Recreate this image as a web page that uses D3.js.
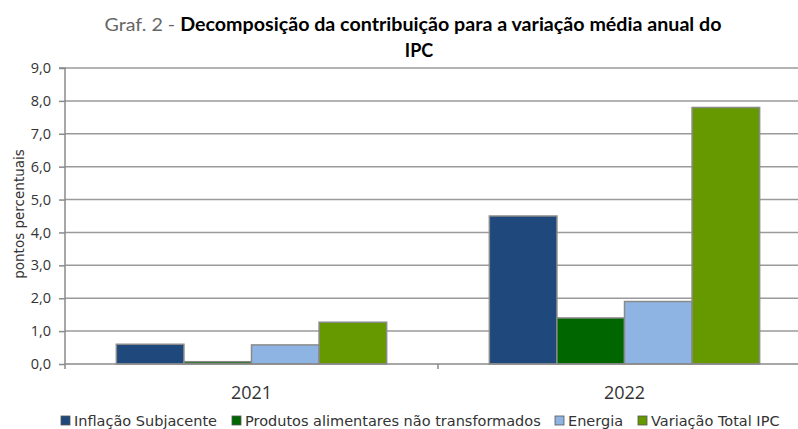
<!DOCTYPE html>
<html>
<head>
<meta charset="utf-8">
<script src="https://cdn.jsdelivr.net/npm/d3@7"></script>
<style>
  body { margin: 0; background: #fff; }
  svg { display: block; }
</style>
</head>
<body>
<div id="content"></div>
<script>
const years = ["2021", "2022"];
const seriesNames = ["Inflação Subjacente", "Produtos alimentares não transformados", "Energia", "Variação Total IPC"];
const inflacaoSubjacente = [0.6, 4.5];
const produtosAlimentares = [0.07, 1.4];
const energia = [0.58, 1.9];
const variacaoTotal = [1.27, 7.8];
const yTicks = [0, 1, 2, 3, 4, 5, 6, 7, 8, 9];
const colors = ["#1f487c", "#006600", "#8db4e2", "#669900"];

const seriesValues = [inflacaoSubjacente, produtosAlimentares, energia, variacaoTotal];

const svg = d3.select("#content")
  .append("svg")
  .attr("width", 798)
  .attr("height", 429);

const margin = { top: 68, left: 65, bottom: 65 };
const plotBottom = 364;

// each year gets half of 746px, the right one is cut off by the picture edge
const x = d3.scaleBand().domain(years).range([margin.left, 811]).paddingInner(0).paddingOuter(0);
const xInner = d3.scaleBand().domain(d3.range(seriesNames.length)).range([0, x.bandwidth()]).paddingInner(0).paddingOuter(0.76);
const y = d3.scaleLinear().domain([0, 9]).range([plotBottom, margin.top]);

// gridlines
svg.append("g")
  .selectAll("line")
  .data(yTicks.slice(1))
  .enter()
  .append("line")
  .attr("x1", margin.left)
  .attr("x2", 798)
  .attr("y1", d => y(d))
  .attr("y2", d => y(d))
  .attr("stroke", "#9a9a9a")
  .attr("stroke-width", 1.5);

// bars
const groups = svg.append("g")
  .selectAll("g")
  .data(years)
  .enter()
  .append("g")
  .attr("transform", d => `translate(${x(d)},0)`);

groups.selectAll("rect")
  .data((d, i) => seriesValues.map((s, k) => ({ k: k, v: s[i] })))
  .enter()
  .append("rect")
  .attr("x", d => xInner(d.k))
  .attr("width", xInner.bandwidth())
  .attr("y", d => y(d.v))
  .attr("height", d => y(0) - y(d.v))
  .attr("fill", d => colors[d.k])
  .attr("stroke", "#8a8a8a")
  .attr("stroke-width", 1.5);

// y axis
const yAxis = svg.append("g")
  .attr("transform", `translate(${margin.left},0)`)
  .call(d3.axisLeft(y).tickValues(yTicks).tickSize(6).tickPadding(8)
    .tickFormat(d => d3.format(".1f")(d).replace(".", ",")));
yAxis.select(".domain").attr("stroke", "#8a8a8a").attr("stroke-width", 1.5).attr("d", `M-6,${margin.top}H0V${plotBottom + 5}`);
yAxis.selectAll(".tick line").attr("stroke", "#8a8a8a").attr("stroke-width", 1.5);
yAxis.selectAll("text")
  .attr("font-family", "Open Sans")
  .attr("font-size", 14.5)
  .attr("fill", "#333");

// x axis
const xAxis = svg.append("g")
  .attr("transform", `translate(0,${plotBottom})`)
  .call(d3.axisBottom(x).tickSize(0).tickPadding(22));
xAxis.select(".domain").attr("stroke", "#8a8a8a").attr("stroke-width", 1.5).attr("d", `M${margin.left},0H798`);
xAxis.selectAll("text")
  .attr("font-family", "Open Sans")
  .attr("font-size", 18)
  .attr("fill", "#333");
xAxis.append("line")
  .attr("x1", x(years[1])).attr("x2", x(years[1]))
  .attr("y1", 0).attr("y2", 5)
  .attr("stroke", "#8a8a8a").attr("stroke-width", 1.5);

// axis title
svg.append("text")
  .attr("transform", "translate(24,214) rotate(-90)")
  .attr("text-anchor", "middle")
  .attr("font-family", "DejaVu Sans")
  .attr("font-size", 13.5)
  .attr("fill", "#333")
  .text("pontos percentuais");

// title
const title = svg.append("text")
  .attr("x", 413)
  .attr("y", 31)
  .attr("text-anchor", "middle")
  .attr("font-family", "Lato")
  .attr("font-size", 18)
  .attr("textLength", 617)
  .attr("lengthAdjust", "spacingAndGlyphs");
title.append("tspan").attr("fill", "#666").text("Graf. 2 - ");
title.append("tspan").attr("fill", "#000").attr("font-weight", "bold")
  .text("Decomposição da contribuição para a variação média anual do");
svg.append("text")
  .attr("x", 419)
  .attr("y", 57)
  .attr("text-anchor", "middle")
  .attr("font-family", "Lato")
  .attr("font-weight", "bold")
  .attr("font-size", 18)
  .text("IPC");

// legend
const legendX = [61, 232, 555, 638];
const legend = svg.append("g")
  .selectAll("g")
  .data(seriesNames)
  .enter()
  .append("g")
  .attr("transform", (d, i) => `translate(${legendX[i]},416)`);
legend.append("rect")
  .attr("width", 9)
  .attr("height", 9)
  .attr("fill", (d, i) => colors[i])
  .attr("stroke", "#555")
  .attr("stroke-width", 0.8);
legend.append("text")
  .attr("x", 13)
  .attr("y", 10)
  .attr("font-family", "DejaVu Sans")
  .attr("font-size", 14.5)
  .attr("fill", "#333")
  .text(d => d);
</script>
</body>
</html>
